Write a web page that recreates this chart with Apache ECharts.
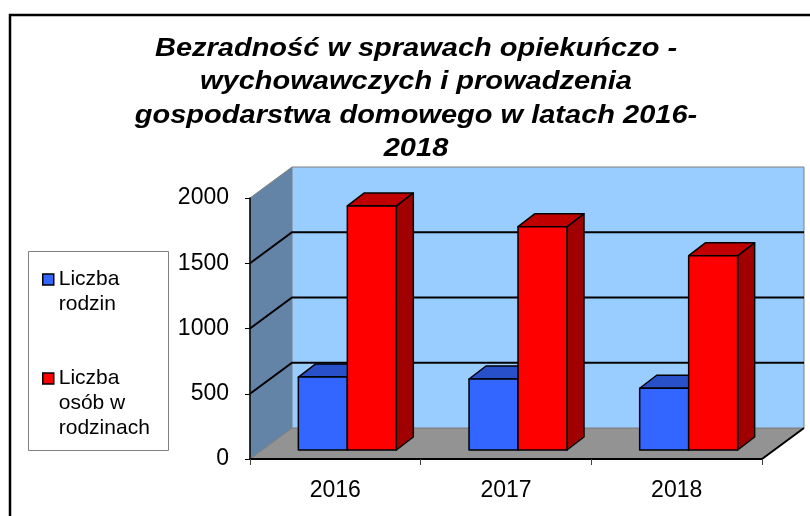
<!DOCTYPE html>
<html lang="pl">
<head>
  <meta charset="UTF-8">
  <title>Bezradność</title>
  <style type="text/css">
    * {
      margin: 0;
      padding: 0;
    }
    html, body {
      width: 100%;
      height: 100%;
      overflow: hidden;
      background: #ffffff;
    }
    #main {
      width: 810px;
      height: 516px;
    }
  </style>
  <script type="text/javascript" src="https://cdn.jsdelivr.net/npm/echarts@6/dist/echarts.min.js"></script>
</head>
<body>
<div id="main"></div>
<script type="text/javascript">
  // dane z wykresu
  var years = ['2016', '2017', '2018'];
  var families = [559, 544, 473];
  var persons = [1870, 1711, 1489];
  var yTicks = [0, 500, 1000, 1500, 2000];
  var seriesNames = ['Liczba rodzin', 'Liczba osób w rodzinach'];
  // puste linie na poczatku, zeby ikona stala przy pierwszej linii tekstu
  var legendLabels = ['\nLiczba\nrodzin', '\n\nLiczba\nosób w\nrodzinach'];
  var titleText = 'Bezradność w sprawach opiekuńczo -\nwychowawczych i prowadzenia\ngospodarstwa domowego w latach 2016-\n2018';

  // efekt 3D (piksele)
  var WALL_DX = 42, WALL_DY = 31;
  var BAR_OFF_X = 12, BAR_OFF_Y = 9;
  var BAR_DX = 17, BAR_DY = 13;
  var BAR_RATIO = 0.287;

  var faceColors = [
    { front: '#3366FF', top: '#2850C8', side: '#1C3A99' },
    { front: '#FF0000', top: '#C00000', side: '#A00000' }
  ];

  var font = "'Liberation Sans', Arial, sans-serif";

  function renderWalls(params, api) {
    var band = api.size([1, 0])[0];
    var x0 = api.coord([0, 0])[0] - band / 2;
    var x1 = api.coord([years.length - 1, 0])[0] + band / 2;
    var y0 = api.coord([0, yTicks[0]])[1];
    var yMax = api.coord([0, yTicks[yTicks.length - 1]])[1];
    var children = [];
    // podloga
    children.push({
      type: 'polygon',
      shape: { points: [[x0, y0], [x1, y0], [x1 + WALL_DX, y0 - WALL_DY], [x0 + WALL_DX, y0 - WALL_DY]] },
      style: { fill: '#939393', stroke: '#808080', lineWidth: 1 }
    });
    // lewa sciana
    children.push({
      type: 'polygon',
      shape: { points: [[x0, y0], [x0, yMax], [x0 + WALL_DX, yMax - WALL_DY], [x0 + WALL_DX, y0 - WALL_DY]] },
      style: { fill: '#6384A6', stroke: '#808080', lineWidth: 1 }
    });
    // tylna sciana
    children.push({
      type: 'rect',
      shape: { x: x0 + WALL_DX, y: yMax - WALL_DY, width: x1 - x0, height: y0 - yMax },
      style: { fill: '#99CCFF', stroke: '#808080', lineWidth: 1 }
    });
    for (var i = 1; i < yTicks.length - 1; i++) {
      var y = api.coord([0, yTicks[i]])[1];
      children.push({
        type: 'polyline',
        shape: { points: [[x0, y], [x0 + WALL_DX, y - WALL_DY], [x1 + WALL_DX, y - WALL_DY]] },
        style: { fill: null, stroke: '#000', lineWidth: 2 }
      });
    }
    // prawa krawedz podlogi
    children.push({
      type: 'line',
      shape: { x1: x1, y1: y0, x2: x1 + WALL_DX, y2: y0 - WALL_DY },
      style: { stroke: '#000', lineWidth: 2 }
    });
    return { type: 'group', children: children };
  }

  function makeBarRenderer(si) {
    return function (params, api) {
      var idx = api.value(0);
      var base = api.coord([idx, 0]);
      var top = api.coord([idx, api.value(1)]);
      var band = api.size([1, 0])[0];
      var w = band * BAR_RATIO;
      var x0 = base[0] + BAR_OFF_X + (si === 0 ? -w : 0);
      var x1 = x0 + w;
      var yt = top[1] - BAR_OFF_Y;
      var yb = base[1] - BAR_OFF_Y;
      var c = faceColors[si];
      var line = { stroke: '#000', lineWidth: 1.5, lineJoin: 'round' };
      return {
        type: 'group',
        children: [
          {
            type: 'polygon',
            shape: { points: [[x1, yt], [x1 + BAR_DX, yt - BAR_DY], [x1 + BAR_DX, yb - BAR_DY], [x1, yb]] },
            style: Object.assign({ fill: c.side }, line)
          },
          {
            type: 'polygon',
            shape: { points: [[x0, yt], [x1, yt], [x1 + BAR_DX, yt - BAR_DY], [x0 + BAR_DX, yt - BAR_DY]] },
            style: Object.assign({ fill: c.top }, line)
          },
          {
            type: 'rect',
            shape: { x: x0, y: yt, width: w, height: yb - yt },
            style: Object.assign({ fill: c.front }, line)
          }
        ]
      };
    };
  }

  function toData(arr) {
    return arr.map(function (v, i) { return [i, v]; });
  }

  var legendText = { fontFamily: font, fontSize: 21, lineHeight: 25, color: '#000' };

  var myChart = echarts.init(document.getElementById('main'), null, { renderer: 'canvas' });

  var option = {
    backgroundColor: '#ffffff',
    animation: false,
    graphic: [
      {
        type: 'rect',
        z: 0,
        shape: { x: 10, y: 15, width: 820, height: 600 },
        style: { fill: null, stroke: '#000', lineWidth: 2.5 }
      },
      {
        type: 'rect',
        z: 0,
        shape: { x: 28.5, y: 251.5, width: 140, height: 199 },
        style: { fill: '#fff', stroke: '#808080', lineWidth: 1 }
      },
      {
        // tytul - w oryginale czcionka jest rozciagnieta w poziomie
        type: 'text',
        x: 416,
        y: 32,
        scaleX: 1.16,
        style: {
          text: titleText,
          align: 'center',
          verticalAlign: 'top',
          fontFamily: font,
          fontSize: 25,
          fontWeight: 'bold',
          fontStyle: 'italic',
          lineHeight: 33.5,
          fill: '#000'
        }
      }
    ],
    legend: [
      {
        data: [{
          name: seriesNames[0], icon: 'rect',
          itemStyle: { borderColor: '#000', borderWidth: 1.5 }
        }],
        left: 42, top: 242, padding: 0,
        itemWidth: 11, itemHeight: 11,
        formatter: function () { return legendLabels[0]; },
        textStyle: legendText
      },
      {
        data: [{
          name: seriesNames[1], icon: 'rect',
          itemStyle: { borderColor: '#000', borderWidth: 1.5 }
        }],
        left: 42, top: 316, padding: 0,
        itemWidth: 11, itemHeight: 11,
        formatter: function () { return legendLabels[1]; },
        textStyle: legendText
      }
    ],
    grid: {
      left: 250,
      right: 48,
      top: 198,
      bottom: 57
    },
    xAxis: {
      type: 'category',
      data: years,
      z: 10,
      axisLine: { lineStyle: { color: '#000', width: 2 } },
      axisTick: { show: true, length: 6, lineStyle: { color: '#404040' } },
      axisLabel: { fontFamily: font, fontSize: 23, color: '#000', margin: 20 }
    },
    yAxis: {
      type: 'value',
      min: 0,
      max: 2000,
      interval: 500,
      z: 10,
      axisLine: { show: true, lineStyle: { color: '#000', width: 1.5 } },
      axisTick: { show: true, length: 5, lineStyle: { color: '#000' } },
      splitLine: { show: false },
      axisLabel: {
        fontFamily: font, fontSize: 23, color: '#000', margin: 21,
        formatter: function (v) { return String(v); }
      }
    },
    series: [
      {
        type: 'custom',
        name: 'walls',
        silent: true,
        z: 1,
        renderItem: renderWalls,
        data: [[0, 0]]
      },
      {
        type: 'custom',
        name: seriesNames[0],
        z: 2,
        itemStyle: { color: faceColors[0].front },
        renderItem: makeBarRenderer(0),
        data: toData(families)
      },
      {
        type: 'custom',
        name: seriesNames[1],
        z: 3,
        itemStyle: { color: faceColors[1].front },
        renderItem: makeBarRenderer(1),
        data: toData(persons)
      }
    ]
  };

  myChart.setOption(option);
</script>
</body>
</html>
